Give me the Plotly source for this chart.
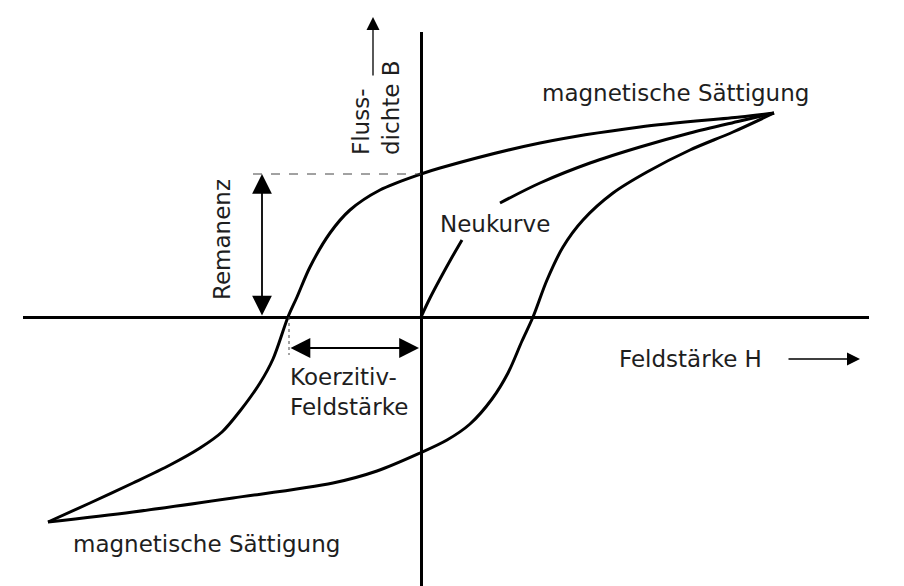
import plotly.graph_objects as go

# Hysteresis loop data (H in arbitrary units, B in arbitrary units)
upper_H = [3.53, 3.19, 2.19, 1.19, 0.19, 0.0, -0.41, -0.71, -0.91, -1.11, -1.24, -1.33,
           -1.48, -1.61, -1.81, -1.99, -2.21, -2.51, -2.88, -3.31, -3.73]
upper_B = [2.04, 2.00, 1.90, 1.74, 1.49, 1.43, 1.27, 1.07, 0.84, 0.50, 0.20, 0.0,
           -0.42, -0.66, -0.94, -1.15, -1.31, -1.48, -1.66, -1.86, -2.05]

lower_H = [-3.73, -2.88, -1.88, -0.88, -0.44, -0.01, 0.26, 0.49, 0.71, 0.87, 1.01, 1.12,
           1.26, 1.42, 1.62, 1.92, 2.26, 2.69, 3.12, 3.53]
lower_B = [-2.05, -1.95, -1.81, -1.66, -1.54, -1.36, -1.23, -1.07, -0.82, -0.56, -0.24, 0.0,
           0.37, 0.70, 0.97, 1.24, 1.45, 1.67, 1.85, 2.04]

neu_H = [0.0, 0.09, 0.19, 0.30, 0.41, None, 0.79, 1.19, 1.69, 2.19, 2.69, 3.19, 3.53]
neu_B = [0.0, 0.19, 0.38, 0.58, 0.77, None, 1.14, 1.34, 1.54, 1.70, 1.84, 1.96, 2.04]

remanenz_B = 1.43
koerzitiv_H = -1.32

TXT = "#1e1e1e"
FONT = dict(family="DejaVu Sans", size=23, color=TXT)

fig = go.Figure()
line = dict(color="black", width=3, shape="spline", smoothing=0.9)
fig.add_trace(go.Scatter(x=upper_H, y=upper_B, mode="lines", line=line, hoverinfo="skip"))
fig.add_trace(go.Scatter(x=lower_H, y=lower_B, mode="lines", line=line, hoverinfo="skip"))
fig.add_trace(go.Scatter(x=neu_H, y=neu_B, mode="lines", line=line, connectgaps=False, hoverinfo="skip"))

# Remanence dashed guide
fig.add_trace(go.Scatter(x=[-1.68, 0], y=[remanenz_B, remanenz_B], mode="lines",
                         line=dict(color="#444", width=1, dash="dash"), hoverinfo="skip"))
# Coercive dotted guide
fig.add_trace(go.Scatter(x=[koerzitiv_H, koerzitiv_H], y=[0, -0.38], mode="lines",
                         line=dict(color="#444", width=1, dash="dot"), hoverinfo="skip"))

ann = []
# Remanence double arrow
ann.append(dict(x=-1.59, y=remanenz_B, ax=-1.59, ay=0, xref="x", yref="y", axref="x", ayref="y",
                text="", showarrow=True, arrowside="end+start", arrowhead=2, arrowsize=2.2,
                arrowwidth=1.8, arrowcolor="black"))
# Coercive double arrow
ann.append(dict(x=-0.02, y=-0.31, ax=koerzitiv_H, ay=-0.31, xref="x", yref="y", axref="x", ayref="y",
                text="", showarrow=True, arrowside="end+start", arrowhead=2, arrowsize=2.2,
                arrowwidth=1.8, arrowcolor="black"))
# H arrow
ann.append(dict(x=4.39, y=-0.42, ax=3.66, ay=-0.42, xref="x", yref="y", axref="x", ayref="y",
                text="", showarrow=True, arrowhead=2, arrowsize=2.0, arrowwidth=1.3, arrowcolor="black"))
# B arrow (above plot area, paper coords, tail offset in pixels)
ann.append(dict(x=-0.48, y=1.027, ax=0, ay=60, xref="x", yref="paper", axref="pixel", ayref="pixel",
                text="", showarrow=True, arrowhead=2, arrowsize=2.0, arrowwidth=1.3, arrowcolor="black"))

# Labels
ann.append(dict(x=2.54, y=2.24, xref="x", yref="y", text="magnetische Sättigung", showarrow=False,
                font=FONT, xanchor="center", yanchor="middle"))
ann.append(dict(x=-2.15, y=-2.27, xref="x", yref="y", text="magnetische Sättigung", showarrow=False,
                font=FONT, xanchor="center", yanchor="middle"))
ann.append(dict(x=0.74, y=0.93, xref="x", yref="y", text="Neukurve", showarrow=False,
                font=FONT, xanchor="center", yanchor="middle"))
ann.append(dict(x=2.69, y=-0.42, xref="x", yref="y", text="Feldstärke H", showarrow=False,
                font=FONT, xanchor="center", yanchor="middle"))
ann.append(dict(x=-1.33, y=-0.75, xref="x", yref="y", text="Koerzitiv-<br>Feldstärke", showarrow=False,
                font=FONT, xanchor="left", yanchor="middle", align="left"))
ann.append(dict(x=-1.99, y=0.77, xref="x", yref="y", text="Remanenz", showarrow=False,
                font=FONT, textangle=-90, xanchor="center", yanchor="middle"))
ann.append(dict(x=-0.45, y=2.09, xref="x", yref="y", text="Fluss-<br>dichte B", showarrow=False,
                font=FONT, textangle=-90, xanchor="center", yanchor="middle", align="left"))

axis_common = dict(showgrid=False, showticklabels=False, ticks="", showline=False,
                   zeroline=True, zerolinecolor="black", zerolinewidth=3, fixedrange=True)
fig.update_layout(
    width=904, height=586,
    margin=dict(l=15, r=43, t=24, b=8),
    paper_bgcolor="white", plot_bgcolor="white",
    showlegend=False,
    xaxis=dict(range=[-3.98, 4.48], **axis_common),
    yaxis=dict(range=[-2.69, 2.85], **axis_common),
    annotations=ann,
)

fig.write_html("out.html")
